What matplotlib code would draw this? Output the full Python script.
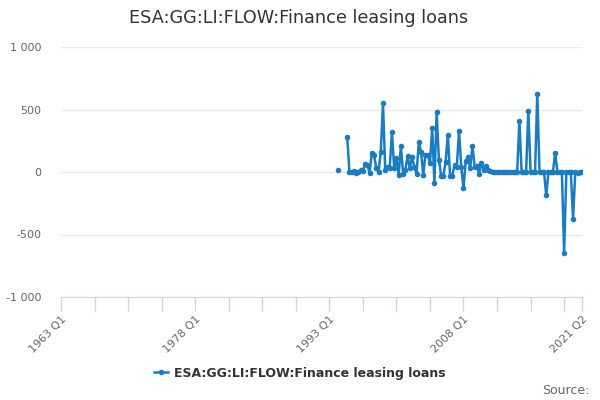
import matplotlib
matplotlib.use("Agg")
import matplotlib.pyplot as plt
from matplotlib.ticker import FuncFormatter
import numpy as np

chart_title = "ESA:GG:LI:FLOW:Finance leasing loans"
series_name = "ESA:GG:LI:FLOW:Finance leasing loans"

# category axis: every quarter from 1963 Q1 to 2021 Q2
first_year = 1963
n_quarters = 234
quarters = [f"{first_year + i // 4} Q{i % 4 + 1}" for i in range(n_quarters)]

# observed values start here (None = missing)
data_start = "1994 Q1"
values = [
    19, None, None, None,
    279, 0, 0, 5, -5, 0, 15, 10, 65, 60, -10, 155, 135, 30, 0, 160,
    550, 15, 40, 30, 320, 30, 110, -20, 205, -15, 20, 125, 30, 120, 40, -15,
    240, 160, -20, 140, 140, 70, 350, -85, 480, 100, -30, -30, 80, 300, -30, -30,
    60, 40, 330, 40, -130, 90, 120, 30, 210, 40, 50, -15, 70, 20, 50, 20,
    10, 0, 0, 0, 0, 0, 0, 0, 0, 0, 0, 0, 0, 410, 0, 0,
    0, 490, 0, 0, 0, 625, 0, 0, 0, -185, 0, 0, 0, 155, 0, 0,
    0, -650, 0, 0, 0, -375, 0, -10, 0, 0,
]

label_quarters = ["1963 Q1", "1978 Q1", "1993 Q1", "2008 Q1", "2021 Q2"]
y_ticks = [-1000, -500, 0, 500, 1000]

line_color = "#1a7dc2"

start = quarters.index(data_start)
x = np.arange(start, start + len(values))
y = np.array(values, dtype=float)

fig = plt.figure(figsize=(6, 4), dpi=100)
ax = fig.add_axes([0.1017, 0.2575, 0.8683, 0.625])

ax.plot(x, y, color=line_color, lw=1.8, marker="o", ms=3, label=series_name, zorder=3)

ax.set_xlim(0, n_quarters - 1)
ax.set_ylim(-1000, 1000)

# y axis
ax.set_yticks(y_ticks)
ax.yaxis.set_major_formatter(FuncFormatter(lambda v, p: f"{v:,.0f}".replace(",", " ")))
ax.grid(axis="y", color="#e9e9e9", lw=1)
ax.set_axisbelow(True)
ax.tick_params(axis="y", length=0, labelsize=8, labelcolor="#666666", pad=14)

# x axis
major = [quarters.index(q) for q in label_quarters]
minor = [i for i in range(0, n_quarters, 15) if i not in major]
ax.set_xticks(major)
ax.set_xticklabels(label_quarters, rotation=45, ha="right", rotation_mode="anchor")
ax.set_xticks(minor, minor=True)
ax.tick_params(axis="x", which="both", length=10, color="#ccd6eb", width=1,
               labelsize=8, labelcolor="#666666", pad=2)

for side in ["top", "right", "left"]:
    ax.spines[side].set_visible(False)
ax.spines["bottom"].set_color("#ccd6eb")

fig.text(0.498, 0.955, chart_title, ha="center", va="center", fontsize=12.7, color="#333333")

leg = fig.legend(loc="center", bbox_to_anchor=(0.5, 0.0675), frameon=False,
                 handlelength=1.1, handletextpad=0.5, prop={"size": 9, "weight": "bold"})
for t in leg.get_texts():
    t.set_color("#333333")

fig.text(0.983, 0.025, "Source:", ha="right", va="center", fontsize=9, color="#666666")

fig.savefig("out.png", dpi=100)
